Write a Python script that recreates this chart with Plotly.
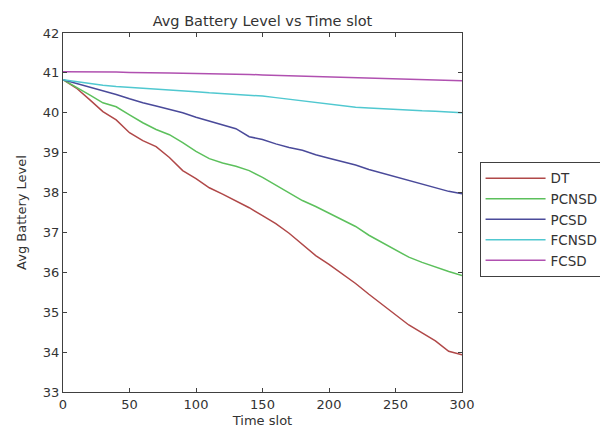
import plotly.graph_objects as go

time_slot = list(range(0, 301, 10))

dt = [40.83, 40.62, 40.33, 40.03, 39.82, 39.50, 39.30, 39.15, 38.88, 38.55,
      38.35, 38.12, 37.96, 37.80, 37.62, 37.42, 37.22, 36.98, 36.70, 36.42,
      36.20, 35.97, 35.72, 35.45, 35.20, 34.94, 34.68, 34.48, 34.28, 34.02, 33.93]
pcnsd = [40.83, 40.65, 40.45, 40.25, 40.15, 39.95, 39.75, 39.58, 39.45, 39.25,
         39.03, 38.85, 38.74, 38.66, 38.55, 38.38, 38.18, 37.98, 37.80, 37.65,
         37.48, 37.32, 37.15, 36.93, 36.75, 36.55, 36.38, 36.25, 36.13, 36.02, 35.92]
pcsd = [40.83, 40.74, 40.65, 40.55, 40.46, 40.35, 40.25, 40.17, 40.08, 40.00,
        39.89, 39.79, 39.70, 39.60, 39.40, 39.33, 39.22, 39.13, 39.06, 38.95,
        38.86, 38.77, 38.69, 38.58, 38.49, 38.40, 38.31, 38.22, 38.12, 38.03, 37.97]
fcnsd = [40.83, 40.78, 40.73, 40.69, 40.66, 40.64, 40.62, 40.60, 40.58, 40.56,
         40.53, 40.50, 40.48, 40.46, 40.45, 40.42, 40.38, 40.34, 40.30, 40.25,
         40.21, 40.17, 40.14, 40.12, 40.10, 40.08, 40.07, 40.05, 40.04, 40.02, 40.00]
fcsd = [41.03, 41.03, 41.03, 41.02, 41.02, 41.01, 41.01, 41.00, 41.00, 40.99,
        40.99, 40.98, 40.97, 40.97, 40.96, 40.95, 40.94, 40.93, 40.92, 40.91,
        40.90, 40.89, 40.88, 40.87, 40.87, 40.86, 40.85, 40.83, 40.82, 40.81, 40.80]

series_names = ["DT", "PCNSD", "PCSD", "FCNSD", "FCSD"]
series_values = [dt, pcnsd, pcsd, fcnsd, fcsd]
series_colors = ["#b04848", "#5cc05c", "#4a4a9a", "#50c8d0", "#b050b0"]

x_ticks = [0, 50, 100, 150, 200, 250, 300]
y_ticks = [33, 34, 35, 36, 37, 38, 39, 40, 41, 42]

FONT = "DejaVu Sans, Liberation Sans, Arial"
TXT = "#333333"

fig = go.Figure()
for name, vals, col in zip(series_names, series_values, series_colors):
    fig.add_trace(go.Scatter(x=time_slot, y=vals, mode="lines", name=name,
                             line=dict(color=col, width=1.5)))

axis_common = dict(showline=True, linecolor="#404040", linewidth=1, mirror="ticks",
                   ticks="inside", ticklen=4, tickcolor="#404040", showgrid=False,
                   zeroline=False, tickfont=dict(family=FONT, size=13, color=TXT))

fig.update_xaxes(range=[0, 300], tickvals=x_ticks,
                 title=dict(text="Time slot", font=dict(family=FONT, size=13, color=TXT), standoff=5),
                 **axis_common)
fig.update_yaxes(range=[33, 42], tickvals=y_ticks,
                 title=dict(text="Avg Battery Level", font=dict(family=FONT, size=13, color=TXT), standoff=13),
                 **axis_common)

fig.update_layout(
    width=600, height=430,
    margin=dict(l=62.5, r=137.5, t=33, b=38, autoexpand=False),
    paper_bgcolor="white", plot_bgcolor="white",
    title=dict(text="Avg Battery Level vs Time slot", x=262.5/600, xanchor="center",
               y=1 - 21/430, yanchor="middle",
               font=dict(family=FONT, size=14.5, color=TXT)),
    legend=dict(x=1.044, y=0.641, xanchor="left", yanchor="top",
                bordercolor="#404040", borderwidth=1, bgcolor="white",
                itemwidth=60, tracegroupgap=0,
                font=dict(family=FONT, size=13.5, color=TXT)),
    showlegend=True,
)

fig.write_html("out.html")
